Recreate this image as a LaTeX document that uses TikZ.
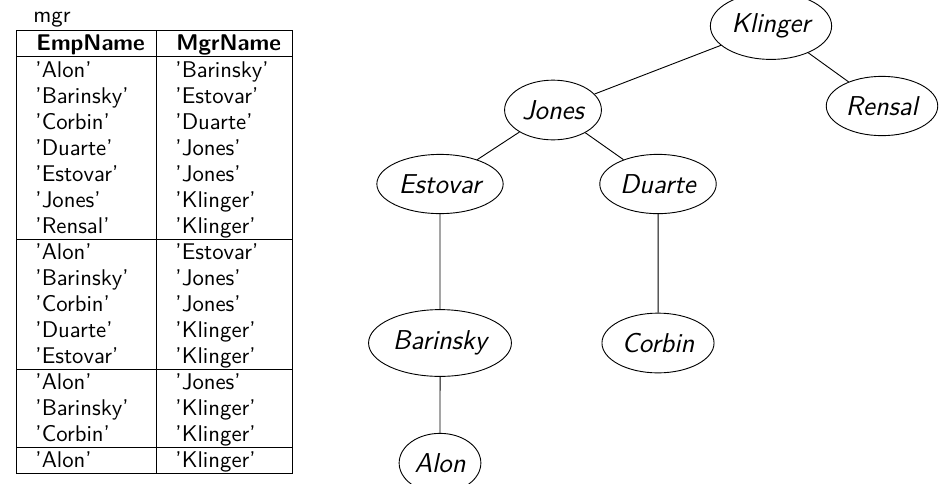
\documentclass[tikz,border=0pt]{standalone}
\usepackage{tikz}
\usetikzlibrary{shapes.geometric}

\begin{document}
\begin{tikzpicture}[x=0.75pt,y=0.75pt,yscale=-0.5867,xscale=0.5867,
    person/.style={draw, ellipse, inner xsep=1.5pt, inner ysep=5pt, font=\sffamily\itshape\large},
    cell/.style={anchor=base west, inner sep=0pt, font=\sffamily},
    headcell/.style={cell, font=\sffamily\bfseries}]
    \useasboundingbox (0,0) rectangle (939,483);
    %Table caption and header
    \node [cell] (caption) at (33,22) {mgr};
    \node [headcell] (hemp) at (36,50) {EmpName};
    \node [headcell] (hmgr) at (176,50) {MgrName};
    %Table rows
    \foreach \e/\m [count=\i from 0] in {Alon/Barinsky, Barinsky/Estovar, Corbin/Duarte, Duarte/Jones, Estovar/Jones, Jones/Klinger, Rensal/Klinger, Alon/Estovar, Barinsky/Jones, Corbin/Jones, Duarte/Klinger, Estovar/Klinger, Alon/Jones, Barinsky/Klinger, Corbin/Klinger, Alon/Klinger} {
      \node [cell] (emp\i) at (35,77+26*\i) {'\e'};
      \node [cell] (mgr\i) at (175,77+26*\i) {'\m'};
    }
    %Table rules
    \draw (16,30) rectangle (292,473);
    \draw (156,30) -- (156,473);
    \foreach \y in {56,239,369,447}
      \draw (16,\y) -- (292,\y);
    %Tree nodes
    \node [person] (klinger) at (771,26) {Klinger};
    \node [person] (jones) at (553,110) {Jones};
    \node [person] (rensal) at (882,106) {Rensal};
    \node [person] (estovar) at (440,184) {Estovar};
    \node [person] (duarte) at (658,184) {Duarte};
    \node [person] (barinsky) at (440,343) {Barinsky};
    \node [person] (corbin) at (658,343) {Corbin};
    \node [person] (alon) at (440,463) {Alon};
    %Tree edges
    \draw (klinger) -- (jones);
    \draw (klinger) -- (rensal);
    \draw (jones) -- (estovar);
    \draw (jones) -- (duarte);
    \draw (estovar) -- (barinsky);
    \draw (barinsky) -- (alon);
    \draw (duarte) -- (corbin);
\end{tikzpicture}
\end{document}
